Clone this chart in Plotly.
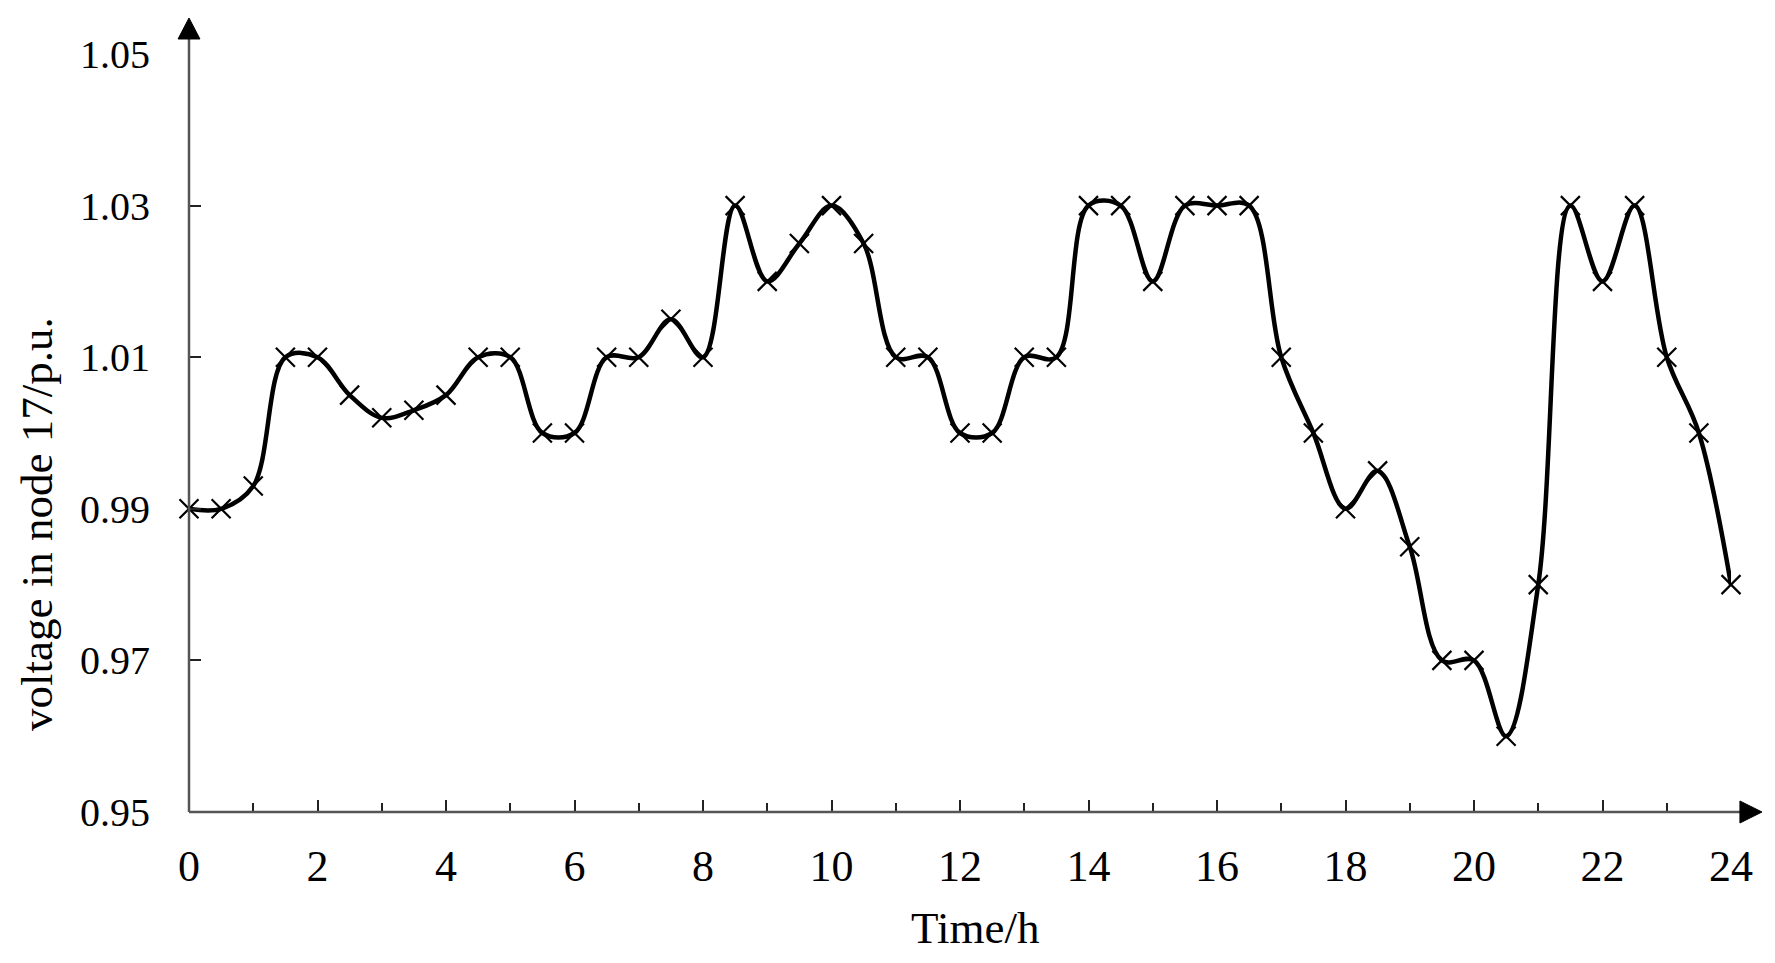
import plotly.graph_objects as go

time_h = [i * 0.5 for i in range(49)]
voltage = [0.990, 0.990, 0.993, 1.010, 1.010, 1.005, 1.002, 1.003, 1.005, 1.010,
           1.010, 1.000, 1.000, 1.010, 1.010, 1.015, 1.010, 1.030, 1.020, 1.025,
           1.030, 1.025, 1.010, 1.010, 1.000, 1.000, 1.010, 1.010, 1.030, 1.030,
           1.020, 1.030, 1.030, 1.030, 1.010, 1.000, 0.990, 0.995, 0.985, 0.970,
           0.970, 0.960, 0.980, 1.030, 1.020, 1.030, 1.010, 1.000, 0.980]

x_ticks = list(range(0, 25, 2))
y_ticks = [0.95, 0.97, 0.99, 1.01, 1.03, 1.05]
y_tick_labels = ["0.95", "0.97", "0.99", "1.01", "1.03", "1.05"]
x_title = "Time/h"
y_title = "voltage in node 17/p.u."

font_family = "Liberation Serif, Times New Roman, serif"
axis_color = "#555555"

fig = go.Figure()
fig.add_trace(go.Scatter(
    x=time_h, y=voltage, mode="lines+markers",
    line=dict(color="black", width=4.5, shape="spline", smoothing=1.0),
    marker=dict(symbol="x-thin", size=19, line=dict(color="black", width=2.2), color="black"),
    showlegend=False, cliponaxis=False,
))

fig.update_layout(
    width=1775, height=963,
    margin=dict(l=181, r=52, t=46, b=159),
    paper_bgcolor="white", plot_bgcolor="white",
    font=dict(family=font_family, size=40, color="black"),
    xaxis=dict(
        range=[0, 24], tickmode="array", tickvals=x_ticks,
        tickfont=dict(size=44),
        ticks="inside", ticklen=12, tickwidth=2, tickcolor="#222222",
        minor=dict(tickmode="linear", tick0=0, dtick=1, ticks="inside", ticklen=9, tickwidth=2, tickcolor="#222222"),
        showgrid=False, zeroline=False, showline=False,
        ticklabelstandoff=24,
    ),
    yaxis=dict(
        range=[0.95, 1.05], tickmode="array", tickvals=y_ticks, ticktext=y_tick_labels,
        tickfont=dict(size=40),
        ticks="inside", ticklen=12, tickwidth=2, tickcolor="#222222",
        showgrid=False, zeroline=False, showline=False,
        ticklabelstandoff=38,
    ),
)

# axis titles
fig.add_annotation(text=x_title, xref="paper", yref="paper", x=0.5097, y=-0.153,
                   xanchor="center", yanchor="middle", showarrow=False,
                   font=dict(size=45, family=font_family, color="black"))
fig.add_annotation(text=y_title, xref="paper", yref="paper", x=-0.0986, y=0.38,
                   xanchor="center", yanchor="middle", textangle=-90, showarrow=False,
                   font=dict(size=45, family=font_family, color="black"))

# axis lines with arrowheads (paper coordinates)
fig.add_shape(type="line", xref="paper", yref="paper", x0=0, y0=0, x1=0, y1=1.021,
              line=dict(color=axis_color, width=2.5))
fig.add_shape(type="line", xref="paper", yref="paper", x0=0, y0=0, x1=1.007, y1=0,
              line=dict(color=axis_color, width=2.5))
fig.add_shape(type="path", xref="paper", yref="paper",
              path="M -0.0071 1.0198 L 0.0071 1.0198 L 0 1.0475 Z",
              fillcolor="black", line=dict(color="black", width=1))
fig.add_shape(type="path", xref="paper", yref="paper",
              path="M 1.0058 -0.0145 L 1.0058 0.0145 L 1.0201 0 Z",
              fillcolor="black", line=dict(color="black", width=1))

fig.write_html("out.html")
